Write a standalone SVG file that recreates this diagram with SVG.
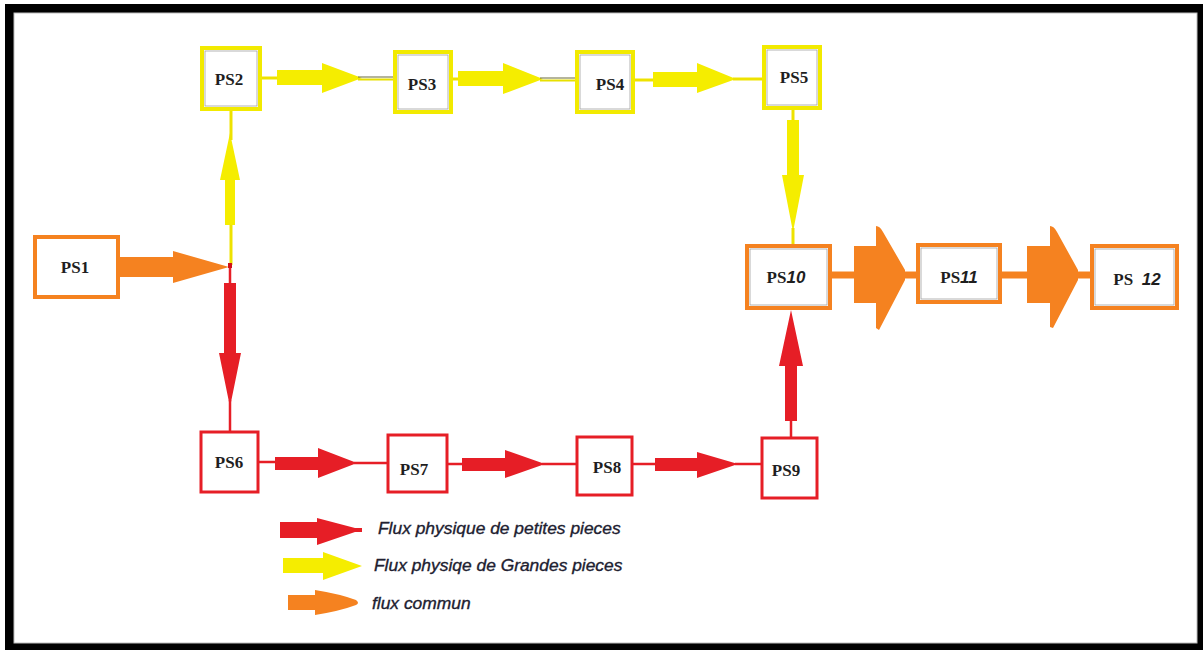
<svg xmlns="http://www.w3.org/2000/svg" width="1203" height="650" viewBox="0 0 1203 650">
  <style>
    .lbl { font-family: "Liberation Serif", "Times New Roman", serif; font-weight: bold; font-size: 17px; fill: #1e1e1e; text-anchor: middle; }
    .num { font-family: "Liberation Sans", Arial, sans-serif; font-style: italic; font-weight: bold; }
    .box-y { fill: #fff; stroke: #f2ea00; stroke-width: 4; }
    .box-r { fill: #fff; stroke: #e61e26; stroke-width: 3; }
    .box-o { fill: #fff; stroke: #f58220; stroke-width: 4; }
    .inner { fill: none; stroke: #a0a0a0; stroke-width: 0.8; }
    .ya { fill: #f5ed00; }
    .ra { fill: #e61e26; }
    .oa { fill: #f58220; }
    .yl { stroke: #eee200; stroke-width: 3; fill: none; }
    .rl { stroke: #e61e26; stroke-width: 2.5; fill: none; }
    .ol { stroke: #f58220; stroke-width: 7; fill: none; }
    .leg { font-family: "Liberation Sans", Arial, sans-serif; font-style: italic; font-size: 17.4px; fill: #202030; stroke: #202030; stroke-width: 0.35; }
  </style>

  <!-- page and frame -->
  <rect x="0" y="0" width="1203" height="650" fill="#fff"/>
  <rect x="5" y="4" width="1198" height="646" fill="#000"/>
  <rect x="14" y="13" width="1183" height="630" fill="#fff" stroke="#bdbdbd" stroke-width="1"/>

  <!-- connectors -->
  <g id="connectors">
    <!-- PS1 to the split point -->
    <polygon class="oa" points="118,257 173,257 173,251 229,267 173,283 173,277 118,277"/>

    <!-- split point up to PS2 (large parts) -->
    <line class="yl" x1="231" y1="265" x2="231" y2="225"/>
    <polygon class="ya" points="225,225 225,180 220,180 230,133 240,180 235,180 235,225"/>
    <line class="yl" x1="231" y1="140" x2="231" y2="108"/>

    <!-- split point down to PS6 (small parts) -->
    <line class="rl" x1="230" y1="267" x2="230" y2="284"/>
    <polygon class="ra" points="224,283 236,283 236,353 241,353 230,407 219,353 224,353"/>
    <line class="rl" x1="230" y1="400" x2="230" y2="432"/>
    <rect x="228" y="263" width="4" height="5" fill="#d0101a"/>

    <!-- top row: PS2 -> PS3 -> PS4 -> PS5 -->
    <line class="yl" x1="260" y1="78" x2="280" y2="78"/>
    <polygon class="ya" points="277,70 322,70 322,63 362,78 322,93 322,85 277,85"/>
    <line x1="358" y1="77" x2="394" y2="77" stroke="#6b6b3a" stroke-width="1"/>
    <line x1="358" y1="79.5" x2="394" y2="79.5" stroke="#e8e000" stroke-width="2"/>

    <line class="yl" x1="451" y1="79" x2="460" y2="79"/>
    <polygon class="ya" points="458,71 503,71 503,63 543,79 503,94 503,86 458,86"/>
    <line x1="540" y1="78" x2="577" y2="78" stroke="#6b6b3a" stroke-width="1"/>
    <line x1="540" y1="80.5" x2="577" y2="80.5" stroke="#e8e000" stroke-width="2"/>

    <line class="yl" x1="633" y1="80" x2="656" y2="80"/>
    <polygon class="ya" points="653,72 697,72 697,63 736,79 697,93 697,87 653,87"/>
    <line class="yl" x1="733" y1="79" x2="763" y2="79"/>

    <!-- PS5 down to PS10 -->
    <line class="yl" x1="793" y1="108" x2="793" y2="122"/>
    <polygon class="ya" points="787,120 799,120 799,175 804,175 793,232 782,175 787,175"/>
    <line class="yl" x1="793" y1="228" x2="793" y2="247"/>

    <!-- bottom row: PS6 -> PS7 -> PS8 -> PS9 -->
    <line class="rl" x1="258" y1="462" x2="278" y2="462"/>
    <polygon class="ra" points="275,457 318,457 318,448 357,463 318,478 318,470 275,470"/>
    <line class="rl" x1="354" y1="463" x2="388" y2="463"/>

    <line class="rl" x1="447" y1="464" x2="465" y2="464"/>
    <polygon class="ra" points="462,458 505,458 505,450 545,464 505,478 505,471 462,471"/>
    <line class="rl" x1="542" y1="464" x2="577" y2="464"/>

    <line class="rl" x1="632" y1="464" x2="658" y2="464"/>
    <polygon class="ra" points="655,458 697,458 697,452 738,464 697,478 697,471 655,471"/>
    <line class="rl" x1="735" y1="464" x2="762" y2="464"/>

    <!-- PS9 up to PS10 -->
    <line class="rl" x1="791" y1="438" x2="791" y2="418"/>
    <polygon class="ra" points="785,421 797,421 797,366 803,366 791,310 779,366 785,366"/>

    <!-- common flow: PS10 -> PS11 -> PS12 -->
    <line class="ol" x1="830" y1="275" x2="856" y2="275"/>
    <path class="oa" d="M854,246 H876 V226 Q880,226 883,232 L905,270 V280 L879,330 L876,328 V303 H854 Z"/>
    <line class="ol" x1="903" y1="275" x2="920" y2="275"/>
    <line class="ol" x1="1000" y1="275" x2="1029" y2="275"/>
    <path class="oa" d="M1027,246 H1050 V226 Q1054,226 1057,232 L1078,270 V280 L1053,328 L1050,327 V303 H1027 Z"/>
    <line class="ol" x1="1076" y1="275" x2="1093" y2="275"/>
  </g>

  <!-- stations -->
  <g id="ps1">
    <rect class="box-o" x="35" y="237" width="83" height="60"/>
    <text class="lbl" x="75" y="273">PS1</text>
  </g>
  <g id="ps2">
    <rect class="box-y" x="202" y="48" width="58" height="61"/>
    <rect class="inner" x="205" y="51" width="52" height="55"/>
    <text class="lbl" x="229" y="85">PS2</text>
  </g>
  <g id="ps3">
    <rect class="box-y" x="395" y="52" width="56" height="60"/>
    <rect class="inner" x="398" y="55" width="50" height="54"/>
    <text class="lbl" x="422" y="90">PS3</text>
  </g>
  <g id="ps4">
    <rect class="box-y" x="577" y="52" width="56" height="60"/>
    <rect class="inner" x="580" y="55" width="50" height="54"/>
    <text class="lbl" x="610" y="90">PS4</text>
  </g>
  <g id="ps5">
    <rect class="box-y" x="764" y="47" width="56" height="61"/>
    <rect class="inner" x="767" y="50" width="50" height="55"/>
    <text class="lbl" x="794" y="83">PS5</text>
  </g>
  <g id="ps6">
    <rect class="box-r" x="201" y="432" width="57" height="60"/>
    <text class="lbl" x="229" y="468">PS6</text>
  </g>
  <g id="ps7">
    <rect class="box-r" x="388" y="435" width="59" height="57"/>
    <text class="lbl" x="414" y="475">PS7</text>
  </g>
  <g id="ps8">
    <rect class="box-r" x="577" y="437" width="55" height="58"/>
    <text class="lbl" x="607" y="473">PS8</text>
  </g>
  <g id="ps9">
    <rect class="box-r" x="762" y="438" width="55" height="60"/>
    <text class="lbl" x="786" y="476">PS9</text>
  </g>
  <g id="ps10">
    <rect class="box-o" x="747" y="246" width="83" height="62"/>
    <rect class="inner" x="750" y="249" width="77" height="56"/>
    <text class="lbl" x="786" y="283">PS<tspan class="num">10</tspan></text>
  </g>
  <g id="ps11">
    <rect class="box-o" x="918" y="245" width="82" height="57"/>
    <rect class="inner" x="921" y="248" width="76" height="51"/>
    <text class="lbl" x="959" y="283">PS<tspan class="num">11</tspan></text>
  </g>
  <g id="ps12">
    <rect class="box-o" x="1092" y="246" width="85" height="62"/>
    <rect class="inner" x="1095" y="249" width="79" height="56"/>
    <text class="lbl" x="1137" y="285" xml:space="preserve">PS  <tspan class="num">12</tspan></text>
  </g>

  <!-- legend -->
  <g id="legend">
    <polygon class="ra" points="280,522 317,522 317,518 355,528 362,528 362,532 355,532 317,545 317,538 280,538"/>
    <text class="leg" x="378" y="534">Flux physique de petites pieces</text>
    <polygon class="ya" points="283,558 323,558 323,552 362,566 323,580 323,573 283,573"/>
    <text class="leg" x="374" y="571">Flux physiqe de Grandes pieces</text>
    <path class="oa" d="M288,595 H315 V590 Q340,594 356,600 Q360,603 356,605 Q340,611 315,615 V610 H288 Z"/>
    <text class="leg" x="372" y="609">flux commun</text>
  </g>
</svg>
